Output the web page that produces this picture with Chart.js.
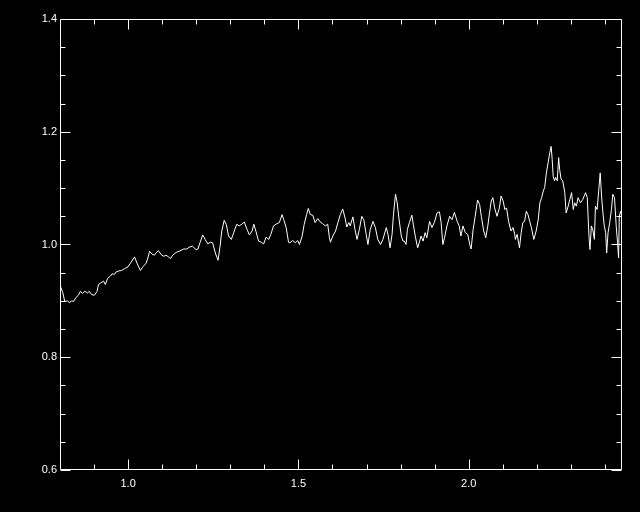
<!DOCTYPE html>
<html>
<head>
<meta charset="utf-8">
<script src="https://cdn.jsdelivr.net/npm/chart.js@4/dist/chart.umd.min.js"></script>
<style>
html,body{margin:0;padding:0;background:#000;overflow:hidden;}
#wrap{width:640px;height:512px;position:relative;}
</style>
</head>
<body>
<div id="wrap"><canvas id="c"></canvas></div>
<script>
// Wavelength (x) values
const wavelength = [
0.801,0.808,0.814,0.822,0.827,0.834,0.840,0.847,0.854,0.860,0.866,0.873,0.881,0.886,0.893,0.901,0.909,0.913,0.920,0.928,
0.933,0.940,0.948,0.953,0.960,0.964,0.972,0.981,0.989,0.999,1.007,1.019,1.026,1.036,1.044,1.053,1.058,1.063,1.070,1.077,
1.082,1.089,1.097,1.105,1.111,1.119,1.124,1.131,1.141,1.150,1.163,1.172,1.179,1.189,1.199,1.205,1.211,1.219,1.226,1.234,
1.241,1.248,1.256,1.264,1.270,1.275,1.282,1.288,1.295,1.303,1.310,1.319,1.326,1.334,1.341,1.349,1.356,1.364,1.369,1.375,
1.383,1.391,1.398,1.405,1.413,1.419,1.427,1.437,1.444,1.452,1.457,1.464,1.471,1.475,1.483,1.491,1.498,1.503,1.511,1.517,
1.524,1.529,1.535,1.542,1.549,1.557,1.564,1.571,1.579,1.586,1.591,1.594,1.601,1.609,1.616,1.623,1.630,1.637,1.642,1.648,
1.652,1.660,1.666,1.672,1.679,1.686,1.692,1.699,1.704,1.711,1.719,1.726,1.733,1.741,1.748,1.758,1.763,1.769,1.775,1.779,
1.785,1.790,1.795,1.802,1.807,1.811,1.816,1.820,1.826,1.833,1.838,1.843,1.850,1.856,1.860,1.866,1.872,1.877,1.885,1.892,
1.899,1.907,1.914,1.919,1.924,1.929,1.936,1.944,1.951,1.958,1.966,1.972,1.977,1.983,1.990,1.997,2.003,2.007,2.013,2.019,
2.026,2.032,2.037,2.044,2.050,2.056,2.061,2.066,2.071,2.076,2.083,2.090,2.095,2.101,2.106,2.111,2.117,2.124,2.130,2.135,
2.137,2.142,2.149,2.154,2.159,2.164,2.169,2.174,2.179,2.184,2.191,2.198,2.204,2.209,2.214,2.219,2.223,2.228,2.233,2.238,
2.242,2.245,2.248,2.252,2.255,2.260,2.264,2.267,2.271,2.276,2.282,2.286,2.292,2.297,2.302,2.307,2.311,2.316,2.321,2.328,
2.335,2.343,2.348,2.353,2.356,2.360,2.364,2.369,2.372,2.377,2.382,2.386,2.390,2.394,2.398,2.402,2.405,2.409,2.414,2.419,
2.423,2.428,2.433,2.437,2.440,2.442,2.446,2.450
];
// Flux ratio (y) values
const flux = [
0.926,0.915,0.899,0.900,0.897,0.900,0.899,0.906,0.910,0.917,0.913,0.917,0.914,0.917,0.911,0.910,0.917,0.929,0.932,0.935,
0.929,0.940,0.944,0.948,0.947,0.951,0.953,0.954,0.957,0.960,0.967,0.978,0.967,0.954,0.961,0.967,0.976,0.988,0.983,0.981,
0.985,0.989,0.982,0.979,0.981,0.978,0.975,0.981,0.986,0.988,0.992,0.992,0.995,0.997,0.991,0.992,1.003,1.017,1.009,1.001,
1.004,1.003,0.985,0.972,0.997,1.024,1.043,1.036,1.015,1.009,1.021,1.036,1.033,1.036,1.040,1.027,1.017,1.024,1.036,1.024,
1.006,1.004,1.001,1.013,1.009,1.018,1.033,1.037,1.039,1.053,1.044,1.030,1.004,1.003,1.007,1.003,1.007,1.000,1.015,1.036,
1.053,1.064,1.053,1.052,1.039,1.046,1.040,1.037,1.033,1.036,1.012,1.004,1.015,1.024,1.039,1.053,1.063,1.047,1.031,1.039,
1.033,1.049,1.027,1.009,1.027,1.050,1.044,1.018,1.000,1.027,1.041,1.030,1.009,1.000,1.009,1.030,1.018,0.994,1.018,1.053,
1.089,1.074,1.047,1.015,1.006,1.006,1.000,1.027,1.039,1.052,1.033,1.015,0.994,1.006,1.015,1.006,1.021,1.012,1.041,1.030,
1.039,1.056,1.058,1.039,1.000,1.012,1.033,1.050,1.044,1.057,1.041,1.033,1.015,1.033,1.021,1.018,1.000,0.992,1.027,1.050,
1.079,1.071,1.050,1.024,1.012,1.033,1.056,1.077,1.083,1.065,1.050,1.065,1.086,1.077,1.062,1.065,1.041,1.024,1.030,1.018,
1.009,1.018,0.994,1.021,1.039,1.041,1.059,1.053,1.041,1.030,1.009,1.024,1.044,1.074,1.083,1.095,1.101,1.127,1.145,1.163,
1.174,1.151,1.121,1.113,1.119,1.113,1.154,1.133,1.116,1.113,1.092,1.056,1.068,1.080,1.092,1.062,1.074,1.068,1.083,1.074,
1.080,1.092,1.083,1.015,0.991,1.033,1.027,1.009,1.068,1.062,1.098,1.127,1.086,1.056,1.033,1.021,0.985,1.021,1.039,1.062,
1.089,1.083,1.033,1.003,0.976,1.050,1.059,1.047
];
const xMajorTicks = [1.0, 1.5, 2.0];
const xMinorTicks = [0.9, 1.1, 1.2, 1.3, 1.4, 1.6, 1.7, 1.8, 1.9, 2.1, 2.2, 2.3, 2.4];
const yMajorTicks = [0.6, 0.8, 1.0, 1.2, 1.4];
const yMinorTicks = [0.65, 0.7, 0.75, 0.85, 0.9, 0.95, 1.05, 1.1, 1.15, 1.25, 1.3, 1.35];

const points = wavelength.map((w, i) => ({x: w, y: flux[i]}));

const bgPlugin = {
  id: 'bg',
  beforeDraw(chart) {
    const ctx = chart.ctx;
    ctx.save();
    ctx.fillStyle = '#000';
    ctx.fillRect(0, 0, chart.width, chart.height);
    ctx.restore();
  }
};

const frame = {
  id: 'frame',
  afterDatasetsDraw(chart) {
    const {ctx, chartArea: a, scales: {x, y}} = chart;
    ctx.save();
    ctx.strokeStyle = '#fff';
    ctx.lineWidth = 1;
    const L = Math.round(a.left) + 0.5, R = Math.round(a.right) - 0.5;
    const T = Math.round(a.top) + 0.5, B = Math.round(a.bottom) - 0.5;
    ctx.beginPath();
    ctx.rect(L, T, R - L, B - T);
    const xt = (v, len) => {
      const p = Math.round(x.getPixelForValue(v)) + 0.5;
      ctx.moveTo(p, B); ctx.lineTo(p, B - len);
      ctx.moveTo(p, T); ctx.lineTo(p, T + len);
    };
    const yt = (v, len) => {
      const p = Math.round(y.getPixelForValue(v)) + 0.5;
      ctx.moveTo(L, p); ctx.lineTo(L + len, p);
      ctx.moveTo(R, p); ctx.lineTo(R - len, p);
    };
    xMajorTicks.forEach(v => xt(v, 10));
    xMinorTicks.forEach(v => xt(v, 5));
    yMajorTicks.forEach(v => yt(v, 10));
    yMinorTicks.forEach(v => yt(v, 5));
    ctx.stroke();
    ctx.restore();
  }
};

new Chart(document.getElementById('c'), {
  type: 'line',
  data: {
    datasets: [{
      data: points,
      borderColor: '#fff',
      borderWidth: 1,
      pointRadius: 0,
      tension: 0,
      fill: false
    }]
  },
  options: {
    responsive: true,
    maintainAspectRatio: false,
    animation: false,
    events: [],
    layout: {padding: {top: 19, right: 18, left: 0, bottom: 0}},
    plugins: {legend: {display: false}, tooltip: {enabled: false}},
    scales: {
      x: {
        type: 'linear',
        min: 0.8,
        max: 2.45,
        afterBuildTicks: s => { s.ticks = xMajorTicks.map(v => ({value: v})); },
        afterFit: s => { s.height = 42; },
        grid: {display: false, drawTicks: false},
        border: {display: false},
        ticks: {
          color: '#fff',
          padding: 7,
          maxRotation: 0,
          autoSkip: false,
          font: {family: 'Liberation Sans', size: 11},
          callback: v => v.toFixed(1)
        }
      },
      y: {
        type: 'linear',
        min: 0.6,
        max: 1.4,
        afterBuildTicks: s => { s.ticks = yMajorTicks.map(v => ({value: v})); },
        afterFit: s => { s.width = 60; },
        grid: {display: false, drawTicks: false},
        border: {display: false},
        ticks: {
          color: '#fff',
          padding: 3,
          autoSkip: false,
          font: {family: 'Liberation Sans', size: 11},
          callback: v => v.toFixed(1)
        }
      }
    }
  },
  plugins: [bgPlugin, frame]
});
</script>
</body>
</html>
